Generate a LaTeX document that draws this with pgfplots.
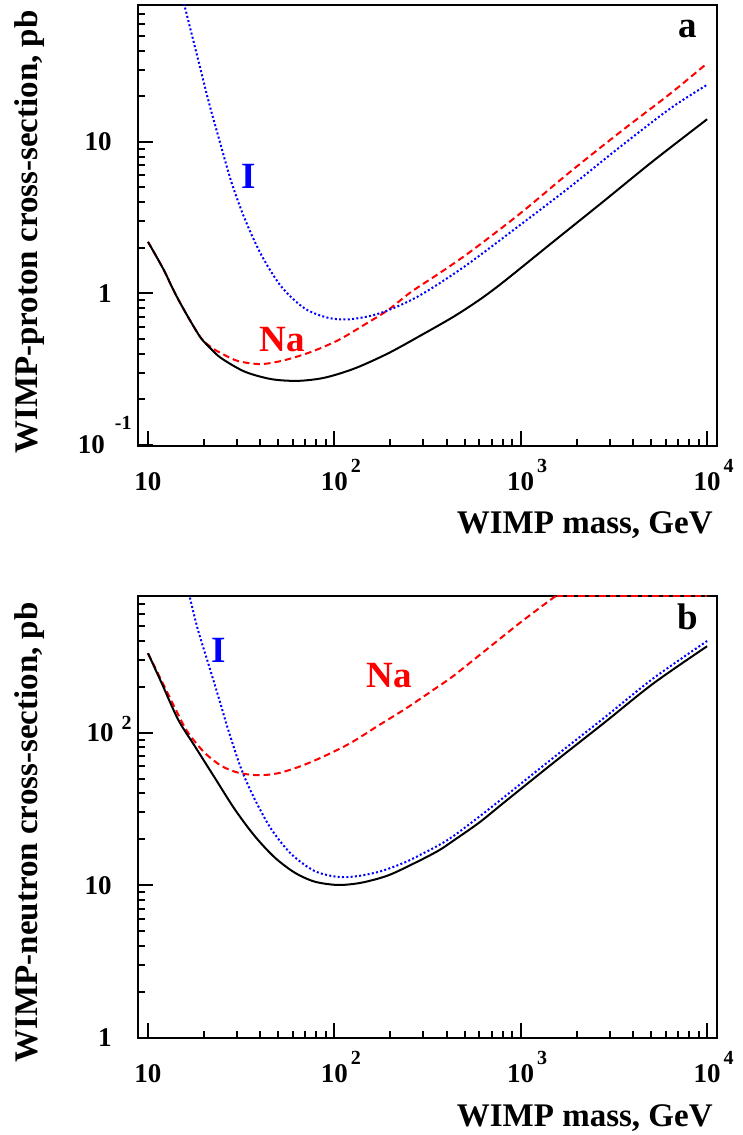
\documentclass[border=0pt]{standalone}
\usepackage{fontspec}
\setmainfont{Liberation Serif}
\usepackage{pgfplots}
\pgfplotsset{compat=1.18}

% tick labels with ROOT-like exponents
\newcommand{\xe}[2]{10\rlap{\kern1.5pt\raisebox{#2}[0pt][0pt]{\fontsize{10}{10}\selectfont #1}}}
\newcommand{\ye}[3]{10\kern#3\raisebox{#2}[0pt][0pt]{\fontsize{10}{10}\selectfont #1}}

\tikzset{lbl/.style={font=\fontsize{18.5}{19}\selectfont\bfseries, inner sep=0pt}}

\begin{document}
\begin{tikzpicture}
\path[use as bounding box] (0,0) rectangle (371.5pt,567.5pt);

% ---- panel a: WIMP-proton
\begin{axis}[
    xmode=log, ymode=log,
    scale only axis,
    width=289.5pt, height=220.5pt,
    at={(69pt,344.5pt)}, anchor=south west,
    xmin=8.84, xmax=11300,
    ymin=0.0985, ymax=80,
    axis line style={line width=1pt},
    tick align=inside,
    xtick pos=bottom, ytick pos=left,
    major tick length=7.5pt, minor tick length=3.5pt,
    tick style={black, line width=1pt},
    xtick={10,100,1000,10000},
    xticklabels={10,\xe{2}{9pt},\xe{3}{9pt},\xe{4}{9pt}},
    minor xtick={20,30,40,50,60,70,80,90,200,300,400,500,600,700,800,900,2000,3000,4000,5000,6000,7000,8000,9000},
    ytick={0.1,1,10},
    yticklabels={\ye{-1}{12pt}{5pt},1\kern10pt,10\kern10pt},
    minor ytick={0.2,0.3,0.4,0.5,0.6,0.7,0.8,0.9,2,3,4,5,6,7,8,9,20,30,40,50,60,70},
    tick label style={font=\fontsize{13.5}{14}\selectfont\bfseries},
    xticklabel style={anchor=north, inner sep=0pt, yshift=-13pt},
    yticklabel style={anchor=east, inner sep=0pt, xshift=-3pt},
  ]
  \addplot[red, line width=1pt, mark=none, dash pattern=on 3.3pt off 2pt, smooth, tension=0.5] coordinates {
    (10,2.19) (11.1,1.75) (12.3,1.39) (13.6,1.07) (15.1,0.838) (17.1,0.641)
    (19.3,0.505) (21.9,0.44) (24.8,0.402) (30.4,0.358)
    (40.5,0.342) (54.1,0.363) (75.3,0.412) (105,0.492) (146,0.625) (194,0.777)
    (259,1.026) (360,1.34) (535,1.88) (993,3.37) (1841,6.34) (3415,11.6)
    (6340,20.8) (10000,33)
  };
  \addplot[blue, line width=1pt, mark=none, dash pattern=on 1pt off 1.15pt, smooth, tension=0.5] coordinates {
    (14.5,120) (15.7,79.6) (17.4,48) (19.3,28.9) (21.4,17.5) (24.3,10)
    (28.0,5.45) (33.0,3.12) (40.6,1.79) (52.0,1.107) (69.3,0.796) (92.4,0.691)
    (118,0.674) (158,0.713) (202,0.789) (270,0.93) (360,1.15) (535,1.60)
    (993,2.83) (1841,5.05) (3415,9.27) (6340,16.6) (10000,23.8)
  };
  \addplot[black, line width=1pt, mark=none, smooth, tension=0.5] coordinates {
    (10,2.19) (11.1,1.75) (12.3,1.39) (13.6,1.07) (15.1,0.838) (17.1,0.641)
    (19.3,0.505) (21.9,0.428) (24.8,0.373) (33.0,0.305)
    (45.9,0.272) (63.8,0.265) (88.7,0.278) (128.5,0.320) (194,0.402) (293,0.531)
    (435,0.701) (600,0.907) (807,1.19) (1499,2.2) (2780,4.05) (5150,7.5) (10000,14.1)
  };
  \node[lbl, blue, anchor=base] at (axis cs:34.8,4.96) {I};
  \node[lbl, red, anchor=base] at (axis cs:52.7,0.411) {Na};
  \node[lbl, anchor=base east] at (axis cs:8850,49) {a};
\end{axis}

% ---- panel b: WIMP-neutron
\begin{axis}[
    xmode=log, ymode=log,
    scale only axis,
    width=289.5pt, height=221pt,
    at={(69pt,48.5pt)}, anchor=south west,
    xmin=8.84, xmax=11300,
    ymin=1, ymax=785,
    axis line style={line width=1pt},
    tick align=inside,
    xtick pos=bottom, ytick pos=left,
    major tick length=7.5pt, minor tick length=3.5pt,
    tick style={black, line width=1pt},
    xtick={10,100,1000,10000},
    xticklabels={10,\xe{2}{9pt},\xe{3}{9pt},\xe{4}{9pt}},
    minor xtick={20,30,40,50,60,70,80,90,200,300,400,500,600,700,800,900,2000,3000,4000,5000,6000,7000,8000,9000},
    ytick={1,10,100},
    yticklabels={1\kern10pt,10\kern10pt,\ye{2}{6pt}{4pt}},
    minor ytick={2,3,4,5,6,7,8,9,20,30,40,50,60,70,80,90,200,300,400,500,600,700},
    tick label style={font=\fontsize{13.5}{14}\selectfont\bfseries},
    xticklabel style={anchor=north, inner sep=0pt, yshift=-13pt},
    yticklabel style={anchor=east, inner sep=0pt, xshift=-3pt},
  ]
  \addplot[red, line width=1pt, mark=none, dash pattern=on 3.3pt off 2pt, smooth, tension=0.5] coordinates {
    (10,331) (11.8,220) (14.5,132) (16.4,100) (20.1,74) (24.8,60.5) (30.4,54.7)
    (38.9,52.6) (49.9,54.2) (66.5,60.5) (88.7,70.3) (123,85.9) (171,110.6)
    (238,142) (288,166) (360,200) (435,235) (657,351) (993,525) (1499,766) (1560,785)
  };
  \addplot[red, line width=1pt, mark=none, dash pattern=on 3.3pt off 2pt] coordinates {
    (1560,785) (10000,785)
  };
  \addplot[blue, line width=1pt, mark=none, dash pattern=on 1pt off 1.15pt, smooth, tension=0.5] coordinates {
    (15,1350) (16.7,785) (18.5,475) (21.0,287) (23.8,174) (26.9,105) (31.7,57.5)
    (37.4,36.6) (45.9,23.3) (58.8,16.0) (78.4,12.4) (104.6,11.35) (134,11.5)
    (179,12.4) (238,14.1) (288,15.8) (360,18.2) (435,21.0) (600,28.2) (807,37.5)
    (1499,68.6) (2780,124) (5150,227) (10000,398)
  };
  \addplot[black, line width=1pt, mark=none, smooth, tension=0.5] coordinates {
    (10,331) (11.8,213) (14.5,122) (17.8,81.8) (22.8,50.7) (29.2,31.5) (37.4,21.0)
    (47.9,15.2) (61.3,12.1) (78.4,10.57) (104.6,10.05) (139.6,10.4) (194,11.6)
    (270,14.0) (360,16.8) (435,19.6) (600,25.8) (807,34.6) (1499,63.5) (2780,115)
    (5150,210) (10000,368)
  };
  \node[lbl, blue, anchor=base] at (axis cs:23.9,290) {I};
  \node[lbl, red, anchor=base] at (axis cs:197,196) {Na};
  \node[lbl, anchor=base east] at (axis cs:8960,477) {b};
\end{axis}

% axis titles
\node[rotate=90, anchor=base east, inner sep=0pt, font=\fontsize{16.5}{18}\selectfont\bfseries]
  at (19pt,562.5pt) {WIMP-proton cross-section, pb};
\node[rotate=90, anchor=base east, inner sep=0pt, font=\fontsize{16.5}{18}\selectfont\bfseries]
  at (19pt,266.5pt) {WIMP-neutron cross-section, pb};
\node[anchor=base east, inner sep=0pt, font=\fontsize{16.5}{18}\selectfont\bfseries]
  at (356.5pt,300.85pt) {WIMP mass, GeV};
\node[anchor=base east, inner sep=0pt, font=\fontsize{16.5}{18}\selectfont\bfseries]
  at (356.5pt,4.35pt) {WIMP mass, GeV};
\end{tikzpicture}
\end{document}
